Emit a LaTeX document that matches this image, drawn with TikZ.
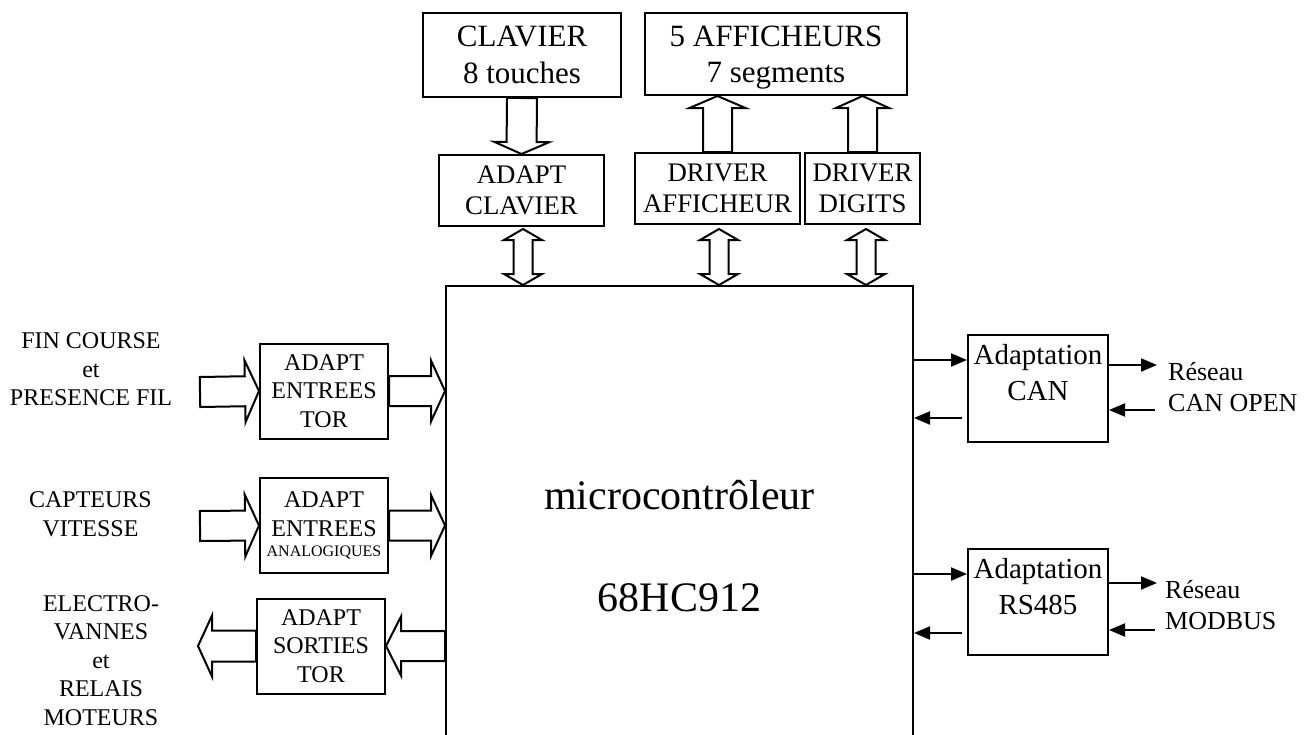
\documentclass[tikz,border=0pt]{standalone}
\usepackage{fontspec}
\setmainfont{Liberation Serif}
\usetikzlibrary{calc,arrows.meta}
\newcommand\fs[2]{\fontsize{#1}{#2}\selectfont}
% block arrow: start, end, shaft half-width, head half-width, head length
\newcommand\blockarrow[5]{%
  \coordinate (bah) at ($(#2)!#5!(#1)$);
  \draw[barrow] ($(#1)!#3!90:(#2)$) -- ($(bah)!#3!90:(#2)$) -- ($(bah)!#4!90:(#2)$) -- (#2)
    -- ($(bah)!#4!-90:(#2)$) -- ($(bah)!#3!-90:(#2)$) -- ($(#1)!#3!-90:(#2)$) -- cycle;}
% double block arrow
\newcommand\dblarrow[5]{%
  \coordinate (dahA) at ($(#2)!#5!(#1)$);
  \coordinate (dahB) at ($(#1)!#5!(#2)$);
  \draw[barrow] (#1) -- ($(dahB)!#4!90:(#2)$) -- ($(dahB)!#3!90:(#2)$) -- ($(dahA)!#3!90:(#2)$)
    -- ($(dahA)!#4!90:(#2)$) -- (#2) -- ($(dahA)!#4!-90:(#2)$) -- ($(dahA)!#3!-90:(#2)$)
    -- ($(dahB)!#3!-90:(#2)$) -- ($(dahB)!#4!-90:(#2)$) -- cycle;}
\tikzset{
  box/.style={draw, line width=2pt, inner sep=0pt, align=center},
  barrow/.style={draw, line width=2pt, fill=white, line join=miter},
  sig/.style={line width=2pt, -{Triangle[length=16pt,width=13pt]}},
  lbl/.style={inner sep=0pt, align=center, font=\fs{24}{28.5}},
}
\begin{document}
\begin{tikzpicture}[x=1pt,y=-1pt]
\useasboundingbox (0,0) rectangle (1309,734);

% top boxes
\node[box, minimum width=198pt, minimum height=84pt, font=\fs{31}{36.5}] (clav) at (522,55) {CLAVIER\\8 touches};
\node[box, minimum width=262pt, minimum height=82pt, font=\fs{31}{36.5}, text depth=0pt] (aff) at (776,54) {5 AFFICHEURS\\7 segments};
\node[box, minimum width=165pt, minimum height=71pt, font=\fs{26.8}{31}] (aclav) at (521.5,190.5) {ADAPT\\CLAVIER};
\node[box, minimum width=165pt, minimum height=71pt, font=\fs{26.8}{31}] (drvaff) at (717.5,188.5) {DRIVER\\AFFICHEUR};
\node[box, minimum width=115pt, minimum height=71pt, font=\fs{26.8}{31}] (drvdig) at (862.5,188.5) {DRIVER\\DIGITS};

% microcontroller
\node[draw, line width=2pt, minimum width=467pt, minimum height=480pt, anchor=north] (micro) at (679.5,285) {};
\node[inner sep=0pt, align=center, font=\fs{42}{102}] (mtext) at (679.5,546) {microcontrôleur\\68HC912};

% left boxes
\node[box, minimum width=128pt, minimum height=95pt, font=\fs{24}{28.5}] (tor) at (324,391) {ADAPT\\ENTREES\\TOR};
\node[box, minimum width=128pt, minimum height=95pt, font=\fs{24}{28.5}] (ana) at (324,525.5) {ADAPT\\ENTREES\\[-8pt]{\fs{16}{19}ANALOGIQUES}};
\node[box, minimum width=128pt, minimum height=95pt, font=\fs{24}{28.5}] (sor) at (321,646) {ADAPT\\SORTIES\\TOR};

% left labels
\node[lbl] (lfin) at (91,369.5) {FIN COURSE\\et\\PRESENCE FIL};
\node[lbl] (lcap) at (90.5,514) {CAPTEURS\\VITESSE};
\node[lbl] (lelv) at (101,660.5) {ELECTRO-\\VANNES\\et\\RELAIS\\MOTEURS};

% right boxes
\node[box, minimum width=140pt, minimum height=107pt] (can) at (1038,388.5) {};
\node[inner sep=0pt, align=center, font=\fs{29}{36}] (cantxt) at (1038,373) {Adaptation\\CAN};
\node[box, minimum width=140pt, minimum height=106pt] (rs) at (1038,602) {};
\node[inner sep=0pt, align=center, font=\fs{29}{36}] (rstxt) at (1038,586.5) {Adaptation\\RS485};

% right labels
\node[inner sep=0pt, align=left, anchor=west, font=\fs{26}{31}] (rcan) at (1168,387) {Réseau\\CAN OPEN};
\node[inner sep=0pt, align=left, anchor=west, font=\fs{26}{31}] (rmod) at (1165,605.5) {Réseau\\MODBUS};

% top block arrows
\blockarrow{clav.south}{aclav.north}{15pt}{27.5pt}{12pt}
\blockarrow{drvaff.north}{drvaff.north |- aff.south}{14.5pt}{28pt}{12pt}
\blockarrow{drvdig.north}{drvdig.north |- aff.south}{14.5pt}{26.5pt}{12pt}
\coordinate (d1a) at ($(aclav.south)+(1.5,2)$);
\coordinate (d1b) at (d1a |- micro.north);
\coordinate (d2a) at ($(drvaff.south)+(1.5,4)$);
\coordinate (d2b) at (d2a |- micro.north);
\coordinate (d3a) at ($(drvdig.south)+(3.5,4)$);
\coordinate (d3b) at (d3a |- micro.north);
\dblarrow{d1a}{d1b}{9.5pt}{19pt}{11pt}
\dblarrow{d2a}{d2b}{9.5pt}{19pt}{11pt}
\dblarrow{d3a}{d3b}{9.5pt}{19pt}{11pt}

% left block arrows
\coordinate (in1) at (200,392);
\coordinate (in2) at (200,526);
\coordinate (out3) at (198,646);
\coordinate (m1) at (micro.west |- tor.east);
\coordinate (m2) at (micro.west |- ana.east);
\coordinate (m3) at (micro.west |- sor.east);
\blockarrow{in1}{tor.west}{15pt}{31pt}{14pt}
\blockarrow{tor.east}{m1}{15pt}{30.5pt}{14pt}
\blockarrow{in2}{ana.west}{15pt}{31pt}{14pt}
\blockarrow{ana.east}{m2}{15pt}{30.5pt}{14pt}
\blockarrow{m3}{sor.east}{15pt}{29.5pt}{15pt}
\blockarrow{sor.west}{out3}{15.5pt}{30.5pt}{14pt}

% right signal arrows
\draw[sig] (micro.east |- 0,360) -- (can.west |- 0,360);
\draw[sig] ($(can.west |- 0,418)+(-5,0)$) -- (micro.east |- 0,418);
\coordinate (canout) at (1157,365);
\coordinate (canin) at (1155,410);
\draw[sig] (can.east |- canout) -- (canout);
\draw[sig] (canin) -- (can.east |- canin);

\draw[sig] (micro.east |- 0,574) -- (rs.west |- 0,574);
\draw[sig] ($(rs.west |- 0,633)+(-5,0)$) -- (micro.east |- 0,633);
\coordinate (rsout) at (1157,583);
\coordinate (rsin) at (1155,630);
\draw[sig] (rs.east |- rsout) -- (rsout);
\draw[sig] (rsin) -- (rs.east |- rsin);
\end{tikzpicture}
\end{document}
